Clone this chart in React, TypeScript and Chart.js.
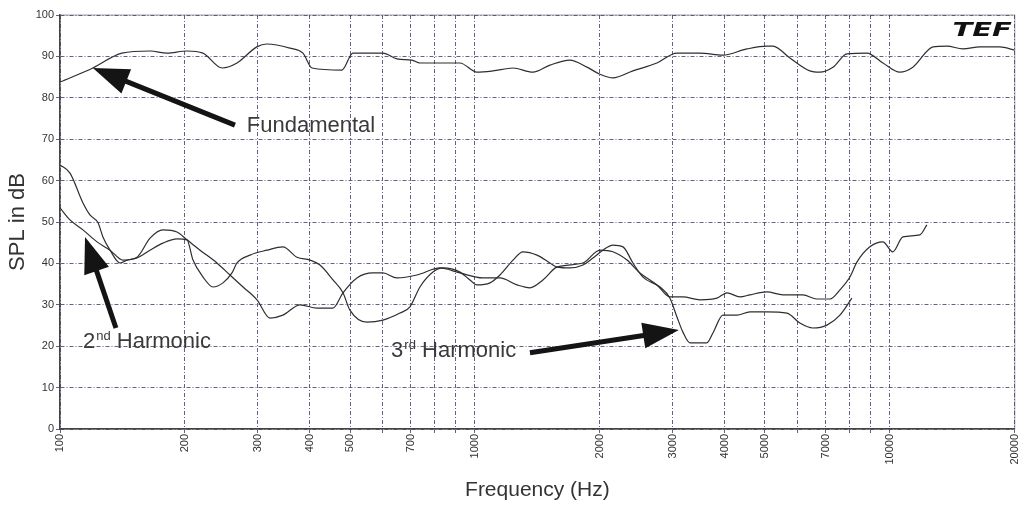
import React, { useEffect, useRef } from 'react';
import { Chart, registerables } from 'chart.js';

Chart.register(...registerables);

// ---------- data ----------
const fundamentalFreq = [100, 120, 141, 165, 181, 202, 221, 246, 267, 298, 315, 358, 385, 405, 478, 508, 558, 600, 649, 705, 737, 810, 920, 1011, 1105, 1235, 1380, 1516, 1694, 1862, 2000, 2150, 2403, 2745, 3067, 3485, 3960, 4523, 5052, 5224, 5742, 6413, 6779, 7290, 7879, 8804, 9620, 10570, 11360, 12700, 13720, 14990, 16480, 18410, 20000];
const fundamentalDb = [83.8, 87.2, 90.8, 91.3, 90.8, 91.3, 90.8, 87.2, 88.4, 92.3, 93.0, 92.0, 90.8, 87.2, 86.7, 90.8, 90.8, 90.8, 89.4, 89.1, 88.4, 88.4, 88.4, 86.2, 86.5, 87.2, 86.2, 87.9, 89.1, 87.4, 85.7, 84.8, 86.5, 88.4, 90.8, 90.8, 90.3, 91.8, 92.5, 92.5, 89.6, 86.5, 86.2, 87.4, 90.6, 90.8, 88.4, 86.2, 87.4, 92.3, 92.5, 91.8, 92.3, 92.3, 91.5];

const secondFreq = [100, 105.7, 113.6, 122.8, 132, 141.8, 153.3, 164.8, 177.1, 191.4, 202.3, 217.5, 238.9, 256.8, 276.1, 298.4, 320.6, 344.6, 378.8, 416.3, 454.9, 480.8, 519.6, 567.8, 600.2, 648.6, 724.7, 823.5, 920.2, 1045, 1149, 1263, 1357, 1458, 1576, 1821, 2001, 2150, 2325, 2498, 2746, 2951, 3171, 3485, 3830, 4049, 4352, 4600, 5052, 5524, 6170, 6670, 7171, 7578, 8010, 8327, 8950, 9619, 10167, 10747, 11810, 12280];
const secondDb = [53.4, 50.5, 48.1, 45.2, 43.2, 40.8, 41.5, 46.1, 48.1, 47.6, 45.7, 43.2, 40.1, 37.2, 34.3, 31.2, 26.8, 27.5, 30.0, 29.2, 29.2, 32.9, 36.5, 37.7, 37.7, 36.5, 37.2, 38.9, 37.7, 36.5, 36.5, 34.8, 34.1, 36.0, 39.1, 40.1, 43.2, 42.8, 40.8, 37.7, 34.8, 31.9, 31.9, 31.2, 31.6, 32.9, 31.9, 32.4, 33.1, 32.4, 32.4, 31.4, 31.4, 33.6, 36.7, 40.3, 44.0, 45.2, 42.8, 46.4, 46.9, 49.3];

const thirdFreq = [100, 105.7, 113.6, 118.1, 123.5, 126.9, 132, 139.5, 145, 153.3, 164.8, 177.1, 191.4, 202.3, 209.2, 221.2, 233.7, 247, 259.7, 267, 287, 315.4, 344.6, 372.5, 400.4, 423.2, 454.9, 480.8, 499.7, 549.3, 600.2, 659.6, 697.2, 737, 792.1, 837.3, 920.2, 972.7, 1011, 1087, 1149, 1235, 1305, 1411, 1516, 1576, 1694, 1821, 1925, 2034, 2150, 2273, 2403, 2540, 2792, 2951, 3067, 3171, 3297, 3485, 3622, 3746, 3960, 4280, 4600, 5052, 5648, 6068, 6524, 7052, 7578, 8099];
const thirdDb = [63.8, 61.8, 54.6, 51.7, 49.8, 46.4, 43.2, 40.1, 40.8, 41.3, 43.2, 44.9, 45.9, 45.7, 40.8, 36.7, 34.3, 35.3, 37.7, 40.1, 42.0, 43.2, 44.0, 41.5, 40.8, 39.6, 36.0, 32.9, 28.7, 25.8, 26.3, 28.0, 29.5, 34.3, 37.9, 38.9, 37.9, 36.0, 34.8, 35.3, 37.2, 40.8, 42.8, 42.0, 40.1, 39.1, 38.9, 39.6, 41.3, 43.2, 44.4, 44.0, 40.1, 36.7, 34.3, 31.6, 27.1, 23.4, 20.8, 20.8, 20.8, 23.2, 27.5, 27.5, 28.3, 28.3, 28.0, 25.6, 24.4, 25.1, 27.5, 31.6];

const gridFreqs = [100, 200, 300, 400, 500, 600, 700, 800, 900, 1000, 2000, 3000, 4000, 5000, 6000, 7000, 8000, 9000, 10000, 20000];
const labeledFreqs = [100, 200, 300, 400, 500, 700, 1000, 2000, 3000, 4000, 5000, 7000, 10000, 20000];
const yMin = 0;
const yMax = 100;
const yStep = 10;

// annotations in data coordinates (Hz, dB)
type Note = { lead: string; sup: string; rest: string; textF: number; textDb: number; tipF: number; tipDb: number; tailF: number; tailDb: number };
const notes: Note[] = [
  { lead: 'Fundamental', sup: '', rest: '', textF: 282, textDb: 71.7, tipF: 120, tipDb: 87.2, tailF: 264, tailDb: 73.4 },
  { lead: '2', sup: 'nd', rest: ' Harmonic', textF: 113.6, textDb: 19.6, tipF: 114.9, tipDb: 46.4, tailF: 136.4, tailDb: 24.4 },
  { lead: '3', sup: 'rd', rest: ' Harmonic', textF: 628, textDb: 17.3, tipF: 3101, tipDb: 23.9, tailF: 1357, tailDb: 18.4 },
];

const toPoints = (fs: number[], ds: number[]) => fs.map((f, i) => ({ x: f, y: ds[i] }));

export default function App() {
  const ref = useRef<HTMLCanvasElement>(null);

  useEffect(() => {
    const canvas = ref.current;
    if (!canvas) return;

    const framePlugin = {
      id: 'frame',
      beforeDraw(chart: any) {
        const { ctx, width, height, chartArea } = chart;
        ctx.save();
        ctx.fillStyle = '#ffffff';
        ctx.fillRect(0, 0, width, height);
        ctx.strokeStyle = '#a0a0a0';
        ctx.lineWidth = 1;
        ctx.strokeRect(chartArea.left, chartArea.top, chartArea.right - chartArea.left, chartArea.bottom - chartArea.top);
        ctx.restore();
      },
    };

    const notesPlugin = {
      id: 'notes',
      afterDatasetsDraw(chart: any) {
        const { ctx, chartArea } = chart;
        const xs = chart.scales.x;
        const ys = chart.scales.y;
        ctx.save();
        for (const n of notes) {
          const tx = xs.getPixelForValue(n.tipF);
          const ty = ys.getPixelForValue(n.tipDb);
          const sx = xs.getPixelForValue(n.tailF);
          const sy = ys.getPixelForValue(n.tailDb);
          const dx = tx - sx;
          const dy = ty - sy;
          const len = Math.hypot(dx, dy);
          const ux = dx / len;
          const uy = dy / len;
          const headLen = 36;
          const headHalf = 13;
          const bx = tx - ux * headLen;
          const by = ty - uy * headLen;
          ctx.strokeStyle = '#141414';
          ctx.fillStyle = '#141414';
          ctx.lineWidth = 5;
          ctx.lineCap = 'butt';
          ctx.beginPath();
          ctx.moveTo(sx, sy);
          ctx.lineTo(bx + ux * 2, by + uy * 2);
          ctx.stroke();
          ctx.beginPath();
          ctx.moveTo(tx, ty);
          ctx.lineTo(bx - uy * headHalf, by + ux * headHalf);
          ctx.lineTo(bx + uy * headHalf, by - ux * headHalf);
          ctx.closePath();
          ctx.fill();

          // text
          let px = xs.getPixelForValue(n.textF);
          const py = ys.getPixelForValue(n.textDb);
          ctx.fillStyle = '#3a3a3a';
          ctx.textAlign = 'left';
          ctx.textBaseline = 'alphabetic';
          ctx.font = '22px "Liberation Sans", Arial, sans-serif';
          ctx.fillText(n.lead, px, py);
          px += ctx.measureText(n.lead).width + 1;
          if (n.sup) {
            ctx.font = '13px "Liberation Sans", Arial, sans-serif';
            ctx.fillText(n.sup, px, py - 8);
            px += ctx.measureText(n.sup).width;
          }
          if (n.rest) {
            ctx.font = '22px "Liberation Sans", Arial, sans-serif';
            ctx.fillText(n.rest, px, py);
          }
        }
        // TEF logo
        ctx.save();
        ctx.translate(chartArea.right - 3, chartArea.top + 21);
        ctx.scale(1.45, 1);
        ctx.font = 'italic 900 20px "DejaVu Sans", sans-serif';
        ctx.textAlign = 'right';
        ctx.textBaseline = 'alphabetic';
        ctx.fillStyle = '#111111';
        ctx.fillText('TEF', 0, 0);
        ctx.restore();
        ctx.restore();
      },
    };

    const lineStyle = {
      borderColor: '#2e2e2e',
      borderWidth: 1.2,
      pointRadius: 0,
      fill: false,
      cubicInterpolationMode: 'monotone' as const,
    };

    const chart = new Chart(canvas, {
      type: 'line',
      data: {
        datasets: [
          { label: 'Fundamental', data: toPoints(fundamentalFreq, fundamentalDb), ...lineStyle },
          { label: '2nd Harmonic', data: toPoints(secondFreq, secondDb), ...lineStyle },
          { label: '3rd Harmonic', data: toPoints(thirdFreq, thirdDb), ...lineStyle },
        ],
      },
      options: {
        animation: false,
        responsive: true,
        maintainAspectRatio: false,
        layout: { padding: { top: 15, right: 14, left: 0, bottom: 0 } },
        plugins: {
          legend: { display: false },
          tooltip: { enabled: false },
        },
        scales: {
          x: {
            type: 'logarithmic',
            min: 100,
            max: 20000,
            afterBuildTicks: (scale: any) => {
              scale.ticks = gridFreqs.map((v) => ({ value: v }));
            },
            afterFit: (scale: any) => {
              scale.height = 79;
            },
            ticks: {
              autoSkip: false,
              minRotation: 90,
              maxRotation: 90,
              padding: 1,
              color: '#333333',
              font: { size: 11, family: '"Liberation Sans", Arial, sans-serif' },
              callback: (value: any) => (labeledFreqs.includes(Number(value)) ? String(value) : ''),
            },
            grid: {
              color: 'rgba(70,70,110,0.85)',
              lineWidth: 1,
              tickLength: 4,
            },
            border: { display: true, color: '#444444', width: 1.5, dash: [4, 2, 1, 2] },
            title: {
              display: true,
              text: 'Frequency (Hz)',
              color: '#333333',
              font: { size: 21, family: '"Liberation Sans", Arial, sans-serif' },
              padding: { top: 0, bottom: 5 },
            },
          },
          y: {
            type: 'linear',
            min: yMin,
            max: yMax,
            afterFit: (scale: any) => {
              scale.width = 60;
            },
            ticks: {
              stepSize: yStep,
              padding: 2,
              color: '#333333',
              font: { size: 11, family: '"Liberation Sans", Arial, sans-serif' },
            },
            grid: {
              color: 'rgba(70,70,110,0.85)',
              lineWidth: 1,
              tickLength: 4,
            },
            border: { display: true, color: '#444444', width: 1.5, dash: [4, 2, 1, 2] },
            title: {
              display: true,
              text: 'SPL in dB',
              color: '#333333',
              font: { size: 22, family: '"Liberation Sans", Arial, sans-serif' },
              padding: { top: 5, bottom: 0 },
            },
          },
        },
      },
      plugins: [framePlugin, notesPlugin],
    });

    return () => chart.destroy();
  }, []);

  return (
    <div style={{ position: 'absolute', left: 0, top: 0, width: 1029, height: 508, background: '#ffffff' }}>
      <canvas ref={ref} />
    </div>
  );
}
